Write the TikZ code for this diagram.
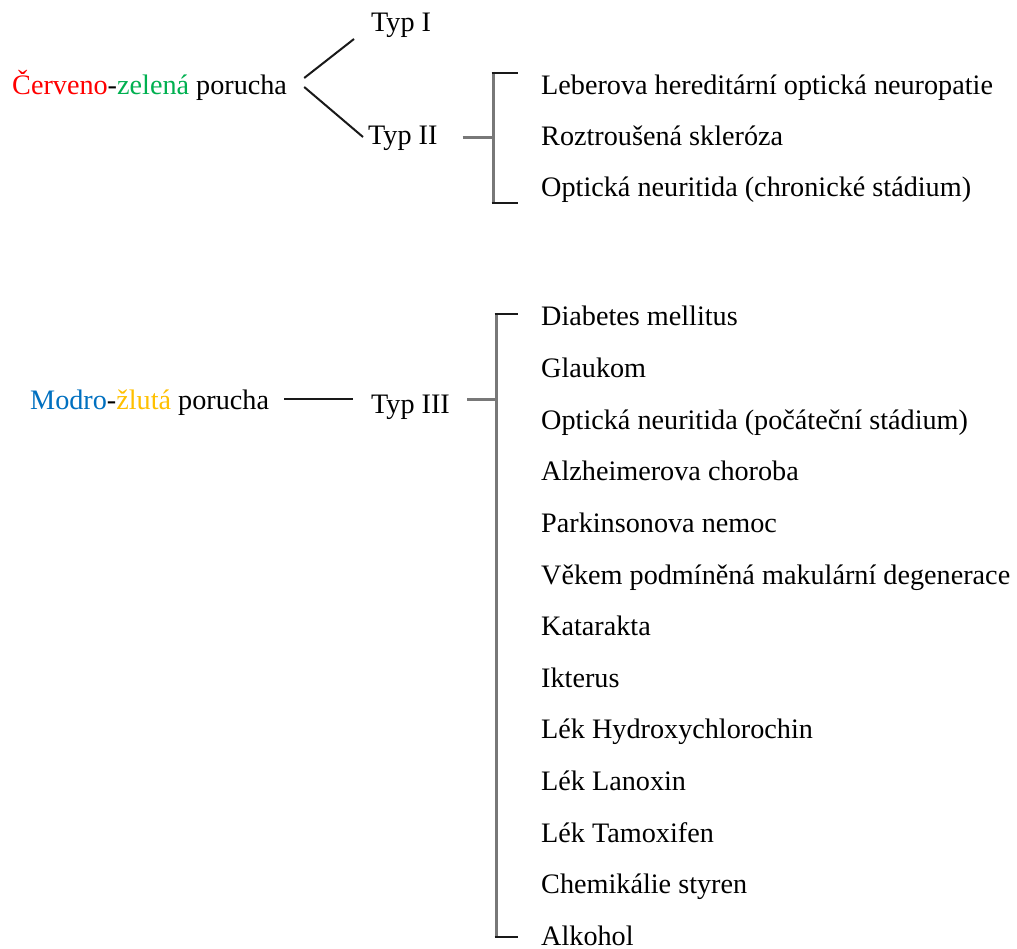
\documentclass[tikz,border=0pt]{standalone}
\usepackage{fontspec}
\setmainfont{Liberation Serif}
\definecolor{cred}{RGB}{255,0,0}
\definecolor{cgreen}{RGB}{0,176,80}
\definecolor{cblue}{RGB}{0,112,192}
\definecolor{cyellow}{RGB}{255,192,0}
\definecolor{cbr}{RGB}{120,120,120}
\begin{document}
\begin{tikzpicture}[x=1pt,y=-1pt,
  txt/.style={anchor=base west, inner sep=0pt, font=\fontsize{28.2}{34}\selectfont},
  ln/.style={line width=2pt, black!90},
  br/.style={line width=3pt, cbr}]
\useasboundingbox (0,0) rectangle (1017,949);
% top group
\node[txt] (cz) at (12,95) {\textcolor{cred}{Červeno}-\textcolor{cgreen}{zelená} porucha};
\node[txt] (t1) at (371,32) {Typ I};
\node[txt] (t2) at (368,145) {Typ II};
\node[txt] (a1) at (541,95) {Leberova hereditární optická neuropatie};
\node[txt] (a2) at (541,146) {Roztroušená skleróza};
\node[txt] (a3) at (541,197) {Optická neuritida (chronické stádium)};
\draw[ln] ([xshift=17pt,yshift=17pt]cz.base east) -- ([xshift=-17pt,yshift=-7pt]t1.base west);
\draw[ln] ([xshift=17pt,yshift=8pt]cz.base east) -- ([xshift=-5pt,yshift=8pt]t2.base west);
\coordinate (bAt) at (493,73);
\coordinate (bAb) at (493,203);
\coordinate (bAm) at (493,138);
\draw[br] ([xshift=25pt,yshift=7pt]t2.base east) -- (bAm);
\draw[br] ([yshift=1pt]bAt) -- ([yshift=-1pt]bAb);
\draw[ln] ([xshift=-1.5pt]bAt) -- (518,73);
\draw[ln] ([xshift=-1.5pt]bAb) -- (518,203);
% bottom group
\node[txt] (mz) at (30,409) {\textcolor{cblue}{Modro}-\textcolor{cyellow}{žlutá} porucha};
\node[txt] (t3) at (371,413) {Typ III};
\foreach \i/\t in {0/Diabetes mellitus,1/Glaukom,2/Optická neuritida (počáteční stádium),3/Alzheimerova choroba,4/Parkinsonova nemoc,5/Věkem podmíněná makulární degenerace,6/Katarakta,7/Ikterus,8/Lék Hydroxychlorochin,9/Lék Lanoxin,10/Lék Tamoxifen,11/Chemikálie styren,12/Alkohol}
  \node[txt] (b\i) at (541,{326+51.6*\i}) {\t};
\draw[ln] ([xshift=15pt,yshift=10pt]mz.base east) -- ([xshift=-18pt,yshift=14pt]t3.base west);
\coordinate (bBt) at (496,314);
\coordinate (bBb) at (496,937);
\coordinate (bBm) at (496,399);
\draw[br] ([xshift=17pt,yshift=14pt]t3.base east) -- (bBm);
\draw[br] ([yshift=1pt]bBt) -- ([yshift=-1pt]bBb);
\draw[ln] ([xshift=-1.5pt]bBt) -- (518,314);
\draw[ln] ([xshift=-1.5pt]bBb) -- (518,937);
\end{tikzpicture}
\end{document}
